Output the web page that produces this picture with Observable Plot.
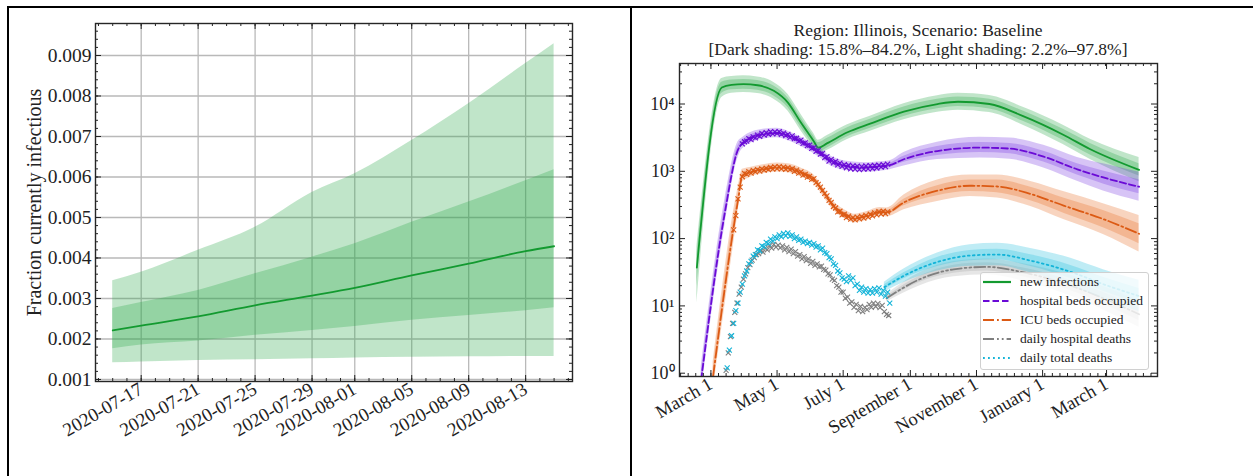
<!DOCTYPE html>
<html>
<head>
<meta charset="utf-8">
<script src="https://cdn.jsdelivr.net/npm/d3@7"></script>
<script src="https://cdn.jsdelivr.net/npm/@observablehq/plot@0.6"></script>
<style>
html, body { margin: 0; padding: 0; background: #fff; }
#page { position: relative; width: 1253px; height: 476px; overflow: hidden; background: #fff; font-family: "Liberation Serif", "Times New Roman", serif; color: #222; }
#left, #right { position: absolute; top: 0; }
#left { left: 0; }
#right { left: 632px; }
.rule { position: absolute; background: #000; }
#title { position: absolute; left: 679px; width: 478px; top: 21px; text-align: center; font-size: 17.5px; line-height: 18.5px; white-space: nowrap; color: #222; }
#legend { position: absolute; left: 980px; top: 272px; width: 169px; height: 98px; background: rgba(255,255,255,0.8); border: 1px solid #d0d0d0; border-radius: 3px; box-sizing: border-box; }
.row { position: absolute; left: 2px; height: 18px; display: flex; align-items: center; font-size: 13.5px; white-space: nowrap; color: #222; }
.row svg { width: 28px; height: 10px; margin-right: 9px; }
</style>
</head>
<body>
<div id="page">
  <div id="left"></div>
  <div id="right"></div>
  <div id="title">Region: Illinois, Scenario: Baseline<br>[Dark shading: 15.8%–84.2%, Light shading: 2.2%–97.8%]</div>
  <div id="legend"></div>
  <div class="rule" style="left:7px;top:6px;width:1246px;height:2px;"></div>
  <div class="rule" style="left:7px;top:6px;width:2px;height:470px;"></div>
  <div class="rule" style="left:630px;top:6px;width:2px;height:470px;"></div>
</div>
<script>
const parse = d3.utcParse("%Y-%m-%d");

// ---------------- LEFT PANEL DATA ----------------
const leftDates   = ["2020-07-15","2020-07-17","2020-07-21","2020-07-25","2020-07-29","2020-08-01","2020-08-05","2020-08-09","2020-08-13","2020-08-15"];
const leftMedian  = [0.00221,0.00233,0.00256,0.00283,0.00307,0.00326,0.00357,0.00386,0.00417,0.00429];
const leftDarkLo  = [0.00176,0.00185,0.00195,0.00209,0.00221,0.00231,0.00246,0.00258,0.00270,0.00277];
const leftDarkHi  = [0.00275,0.00290,0.00320,0.00361,0.00402,0.00435,0.00488,0.00538,0.00591,0.00618];
const leftLightLo = [0.00141,0.00143,0.00147,0.00149,0.00151,0.00153,0.00155,0.00156,0.00157,0.00157];
const leftLightHi = [0.00344,0.00365,0.00419,0.00476,0.00562,0.00608,0.00690,0.00781,0.00880,0.00929];
const leftXTicks  = ["2020-07-17","2020-07-21","2020-07-25","2020-07-29","2020-08-01","2020-08-05","2020-08-09","2020-08-13"];
const leftYTicks  = [0.001,0.002,0.003,0.004,0.005,0.006,0.007,0.008,0.009];
const leftYLabel  = "Fraction currently infectious";

// ---------------- RIGHT PANEL DATA ----------------
// new infections (model)
const niDates   = ["2020-02-17","2020-03-11","2020-03-20","2020-03-31","2020-04-13","2020-04-28","2020-05-11","2020-05-23","2020-06-04","2020-06-08","2020-06-16","2020-07-05","2020-07-26","2020-08-26","2020-09-26","2020-10-15","2020-11-13","2020-12-14","2021-01-20","2021-02-14","2021-03-31"];
const niMed     = [37,17600,19300,19700,19000,15700,10500,5300,2780,2240,2600,3800,5100,7700,10000,10800,10000,6600,3500,2130,1050];
const niDarkLo  = [20,14500,16300,16600,16000,13200,8900,4500,2360,1900,2210,3250,4350,6550,8500,9150,8450,5550,2900,1750,850];
const niDarkHi  = [55,21000,22700,23200,22300,18500,12400,6250,3280,2650,3060,4450,5950,9050,11750,12700,11800,7850,4200,2600,1300];
const niLightLo = [11,12500,14500,14800,14300,11800,7900,4000,2150,1750,2030,2980,3950,5850,7550,8100,7450,4850,2500,1500,700];
const niLightHi = [75,24000,25700,26200,25300,20900,14000,7050,3600,2900,3370,4900,6600,10100,13300,14400,13400,8950,4850,3000,1600];

// hospital beds occupied (model)
const hbDates   = ["2020-02-21","2020-03-14","2020-03-26","2020-03-30","2020-04-18","2020-05-01","2020-05-15","2020-05-28","2020-06-09","2020-06-19","2020-07-04","2020-07-22","2020-08-04","2020-08-12","2020-08-26","2020-09-26","2020-11-04","2020-12-02","2021-01-02","2021-02-02","2021-02-26","2021-03-31"];
const hbMed     = [0.8,250,2100,2600,3550,3700,3170,2500,1900,1440,1200,1140,1180,1220,1510,2000,2250,2170,1650,1070,810,590];
const hbDarkLo  = [0.65,200,1850,2350,3250,3400,2900,2300,1750,1320,1100,1045,1080,1130,1360,1720,1900,1820,1370,880,650,465];
const hbDarkHi  = [1.0,310,2400,2900,3900,4050,3450,2720,2070,1570,1310,1245,1290,1320,1680,2330,2670,2590,1990,1300,1010,750];
const hbLightLo = [0.5,160,1600,2150,3000,3150,2700,2130,1620,1220,1020,970,1000,1050,1200,1500,1580,1510,1120,710,510,360];
const hbLightHi = [1.25,390,2750,3150,4200,4350,3700,2930,2230,1700,1410,1340,1390,1420,1900,2700,3200,3120,2430,1610,1290,970];
// hospital beds occupied (observed, every 2 days)
const hbObsStart = "2020-03-30";
const hbObs = [2550,2750,2800,3050,2950,3250,3150,3450,3300,3650,3450,3750,3550,3900,3600,3850,3650,3900,3550,3700,3400,3550,3200,3350,3050,3100,2800,2900,2600,2650,2400,2450,2200,2250,1980,2050,1800,1850,1600,1650,1420,1500,1330,1400,1250,1320,1180,1260,1130,1230,1090,1200,1080,1190,1060,1170,1080,1200,1090,1210,1100,1220,1120,1230,1150,1260,1170,1280];

// ICU beds occupied (model)
const icuDates   = ["2020-03-03","2020-03-26","2020-03-30","2020-04-06","2020-04-18","2020-05-01","2020-05-13","2020-05-23","2020-06-04","2020-06-13","2020-06-22","2020-07-05","2020-07-11","2020-07-23","2020-08-04","2020-08-10","2020-08-26","2020-09-26","2020-10-26","2020-11-20","2020-12-21","2021-01-21","2021-02-26","2021-03-31"];
const icuMed     = [0.9,370,855,960,1070,1140,1100,960,760,484,308,218,199,218,250,245,345,515,610,595,460,307,195,118];
const icuDarkLo  = [0.7,300,760,880,990,1060,1020,890,705,450,286,202,185,202,232,228,308,433,500,480,365,237,145,84];
const icuDarkHi  = [1.15,455,960,1050,1160,1230,1190,1040,820,522,332,235,214,235,270,265,386,612,745,740,580,398,262,166];
const icuLightLo = [0.55,240,680,810,920,980,945,825,655,416,265,187,171,187,215,210,268,357,422,400,300,190,115,63];
const icuLightHi = [1.45,570,1070,1140,1250,1330,1280,1120,880,563,358,253,231,253,290,285,445,745,880,885,705,495,330,220];
// ICU beds occupied (observed, every 2 days)
const icuObsStart = "2020-03-22";
const icuObs = [135,220,390,580,830,930,900,990,940,1030,980,1060,1010,1090,1040,1110,1060,1140,1080,1160,1100,1170,1090,1150,1070,1130,1060,1100,1000,1040,940,980,880,900,820,840,760,780,680,640,580,520,470,430,370,345,300,285,250,255,225,230,205,215,195,205,190,208,196,214,202,222,208,230,218,242,226,252,232,255,236,250];

// daily hospital deaths (model)
const hdDates   = ["2020-08-10","2020-09-10","2020-10-11","2020-11-11","2020-12-12","2021-01-27","2021-02-26","2021-03-31"];
const hdMed     = [13,25,35,38,32,20,13,7.5];
const hdDarkLo  = [12.2,22.5,30.5,33,27.5,16.8,10.7,6];
const hdDarkHi  = [13.9,27.8,40.2,43.7,37.2,23.8,15.8,9.4];
const hdLightLo = [11.4,20,27,29,23.8,14,8.7,4.8];
const hdLightHi = [14.8,31.3,45.5,49.8,43,28.5,19.5,11.8];
// daily hospital deaths (observed, every 2 days)
const hdObsStart = "2020-03-15";
const hdObs = [1.1,2.0,3.5,5.5,8,11,15,19,25,30,37,41,48,52,58,60,66,63,72,68,78,72,82,75,80,73,78,68,74,64,70,60,64,55,58,50,54,47,50,43,46,40,42,38,39,35,34,30,29,25,24,20,19,16,16,13,13.5,11,11.5,9.5,10.5,8.5,9.8,8.2,9.5,8.8,10.5,9.5,11,9.8,10.8,9.4,10.2,8.2,7.5,7.2];

// daily total deaths (model)
const tdDates   = ["2020-08-08","2020-08-26","2020-09-26","2020-10-26","2020-11-20","2020-12-21","2021-01-27","2021-02-26","2021-03-31"];
const tdMed     = [19,28,45,56,58,47,32,21,14];
const tdDarkLo  = [17.5,25.3,38.5,47,48.5,38.5,25.5,16.5,10.8];
const tdDarkHi  = [20.6,31,52.5,66.5,69.5,57.5,40,26.7,18.2];
const tdLightLo = [16,22.2,33,38.8,39.5,31,20,12.8,8.2];
const tdLightHi = [22.5,35.3,61,80.8,85,71.5,51,34.5,24];
// daily total deaths (observed, every 2 days)
const tdObsStart = "2020-03-16";
const tdObs = [1.2,2.2,3.6,5.5,8.5,11,16,21,28,33,42,46,55,58,68,66,78,76,88,84,98,92,106,100,114,106,120,110,122,108,114,100,106,94,98,88,92,84,88,80,84,75,78,68,72,62,60,52,50,42,40,33,31,26,25,23,28,24,26,20,21,17,19,16,18,15.5,17.5,15.5,18,16,18.5,15,17,14,16,11];

const rightXTicks  = ["2020-03-01","2020-05-01","2020-07-01","2020-09-01","2020-11-01","2021-01-01","2021-03-01"];
const rightYTicks  = [1,10,100,1000,10000];
const rightYLabels = ["10⁰","10¹","10²","10³","10⁴"];
const seriesNames  = ["new infections","hospital beds occupied","ICU beds occupied","daily hospital deaths","daily total deaths"];
const seriesColors = ["#139a30","#6a0ad6","#dc5a14","#7f7f7f","#14b4d8"];
const bandColors   = ["#30a84b","#7b3be0","#e8722c","#9a9a9a","#2ac0de"];
const seriesDash   = [null,"6.5,3","11,3,1.8,3","11,3,1.8,3,1.8,3","1.8,3.2"];

// ---------------- HELPERS ----------------
function bandTable(dates, med, dLo, dHi, lLo, lHi) {
  return dates.map((d, i) => ({date: parse(d), med: med[i], dLo: dLo[i], dHi: dHi[i], lLo: lLo[i], lHi: lHi[i]}));
}
function obsTable(start, vals) {
  const s = parse(start);
  return vals.map((v, i) => ({date: d3.utcDay.offset(s, 2 * i), v}));
}
function sideTicksX(data, len, ph, stroke = "#222") {
  return [
    Plot.ruleX(data, {x: d => d, insetTop: ph - len, stroke, strokeWidth: 1}),
    Plot.ruleX(data, {x: d => d, insetBottom: ph - len, stroke, strokeWidth: 1})
  ];
}
function sideTicksY(data, len, pw, stroke = "#222") {
  return [
    Plot.ruleY(data, {y: d => d, insetRight: pw - len, stroke, strokeWidth: 1}),
    Plot.ruleY(data, {y: d => d, insetLeft: pw - len, stroke, strokeWidth: 1})
  ];
}

// ---------------- LEFT PLOT ----------------
const leftData = bandTable(leftDates, leftMedian, leftDarkLo, leftDarkHi, leftLightLo, leftLightHi);
const LW = 630, LH = 476, LML = 95, LMR = 58, LMT = 23, LMB = 95;
const lpw = LW - LML - LMR, lph = LH - LMT - LMB;
const lxMajor = leftXTicks.map(parse);
const lxMinor = d3.utcDay.range(parse("2020-07-14"), parse("2020-08-17"));
const lyMinor = d3.range(10, 98, 2).map(d => d / 10000);

const leftPlot = Plot.plot({
  width: LW, height: LH,
  marginLeft: LML, marginRight: LMR, marginTop: LMT, marginBottom: LMB,
  style: {background: "transparent", fontFamily: "Liberation Serif, serif", color: "#222"},
  x: {type: "utc", domain: [new Date("2020-07-13T19:00Z"), new Date("2020-08-16T07:00Z")]},
  y: {domain: [0.00095, 0.00979]},
  marks: [
    Plot.gridX(lxMajor, {stroke: "#b9b9b9", strokeOpacity: 1, strokeWidth: 1.3}),
    Plot.gridY(leftYTicks, {stroke: "#b9b9b9", strokeOpacity: 1, strokeWidth: 1.3}),
    Plot.areaY(leftData, {x: "date", y1: "lLo", y2: "lHi", fill: bandColors[0], fillOpacity: 0.3, curve: "monotone-x"}),
    Plot.areaY(leftData, {x: "date", y1: "dLo", y2: "dHi", fill: bandColors[0], fillOpacity: 0.3, curve: "monotone-x"}),
    Plot.line(leftData, {x: "date", y: "med", stroke: seriesColors[0], strokeWidth: 1.8, curve: "monotone-x"}),
    ...sideTicksX(lxMinor, 3, lph),
    ...sideTicksX(lxMajor, 6, lph),
    ...sideTicksY(lyMinor, 3, lpw),
    ...sideTicksY(leftYTicks, 6, lpw),
    Plot.frame({stroke: "#262626", strokeWidth: 1.4}),
    Plot.axisX(lxMajor, {tickFormat: d3.utcFormat("%Y-%m-%d"), tickRotate: -30, textAnchor: "end", tickSize: 0, tickPadding: 6, fontSize: 19}),
    Plot.axisY(leftYTicks, {tickFormat: d3.format(".3f"), tickSize: 0, tickPadding: 4, fontSize: 19.5, label: null}),
    Plot.text([leftYLabel], {frameAnchor: "left", textAnchor: "middle", lineAnchor: "middle", dx: -61, rotate: -90, fontSize: 20, fill: "#222"})
  ]
});
document.getElementById("left").appendChild(leftPlot);

// ---------------- RIGHT PLOT ----------------
const RW = 621, RH = 476, RML = 47, RMR = 96, RMT = 63, RMB = 100;
const rpw = RW - RML - RMR, rph = RH - RMT - RMB;
const models = [
  bandTable(niDates, niMed, niDarkLo, niDarkHi, niLightLo, niLightHi),
  bandTable(hbDates, hbMed, hbDarkLo, hbDarkHi, hbLightLo, hbLightHi),
  bandTable(icuDates, icuMed, icuDarkLo, icuDarkHi, icuLightLo, icuLightHi),
  bandTable(hdDates, hdMed, hdDarkLo, hdDarkHi, hdLightLo, hdLightHi),
  bandTable(tdDates, tdMed, tdDarkLo, tdDarkHi, tdLightLo, tdLightHi)
];
const observed = [
  null,
  obsTable(hbObsStart, hbObs),
  obsTable(icuObsStart, icuObs),
  obsTable(hdObsStart, hdObs),
  obsTable(tdObsStart, tdObs)
];
const rxMajor = rightXTicks.map(parse);
const rxMinor = d3.utcDay.range(parse("2020-02-02"), parse("2021-04-17"), 7);
const ryMinor = [];
for (const p of [1, 10, 100, 1000, 10000]) for (const m of [2,3,4,5,6,7,8,9]) if (m * p < 40000) ryMinor.push(m * p);

const seriesMarks = [];
models.forEach((data, k) => {
  seriesMarks.push(
    Plot.areaY(data, {x: "date", y1: "lLo", y2: "lHi", fill: bandColors[k], fillOpacity: k === 3 ? 0.25 : 0.3, curve: "monotone-x", clip: true}),
    Plot.areaY(data, {x: "date", y1: "dLo", y2: "dHi", fill: bandColors[k], fillOpacity: k === 3 ? 0.25 : 0.3, curve: "monotone-x", clip: true}),
    Plot.line(data, {x: "date", y: "med", stroke: seriesColors[k], strokeWidth: 1.8, strokeDasharray: seriesDash[k], curve: "monotone-x", clip: true})
  );
  if (observed[k]) {
    seriesMarks.push(Plot.dot(observed[k], {x: "date", y: "v", symbol: "times", r: 2.4, fill: "none", stroke: seriesColors[k], strokeWidth: 1.1, clip: true}));
  }
});

const rightPlot = Plot.plot({
  width: RW, height: RH,
  marginLeft: RML, marginRight: RMR, marginTop: RMT, marginBottom: RMB,
  style: {background: "transparent", fontFamily: "Liberation Serif, serif", color: "#222"},
  x: {type: "utc", domain: [parse("2020-02-01"), parse("2021-04-17")]},
  y: {type: "log", domain: [0.893, 40000]},
  marks: [
    ...seriesMarks,
    ...sideTicksX(rxMinor, 3, rph),
    ...sideTicksX(rxMajor, 6, rph),
    ...sideTicksY(ryMinor, 3, rpw),
    ...sideTicksY(rightYTicks, 6, rpw),
    Plot.frame({stroke: "#262626", strokeWidth: 1.4}),
    Plot.axisX(rxMajor, {tickFormat: d3.utcFormat("%B %-d"), tickRotate: -30, textAnchor: "end", tickSize: 0, tickPadding: 6, fontSize: 18.5}),
    Plot.axisY(rightYTicks, {tickFormat: d => rightYLabels[rightYTicks.indexOf(d)], tickSize: 0, tickPadding: 5, fontSize: 18, label: null})
  ]
});
document.getElementById("right").appendChild(rightPlot);

// ---------------- LEGEND ----------------
const legend = document.getElementById("legend");
seriesNames.forEach((name, k) => {
  const row = document.createElement("div");
  row.className = "row";
  row.style.top = (k * 19) + "px";
  const dash = seriesDash[k] ? ` stroke-dasharray="${seriesDash[k]}"` : "";
  row.innerHTML = `<svg viewBox="0 0 28 10"><line x1="0" y1="5" x2="28" y2="5" stroke="${seriesColors[k]}" stroke-width="2.2"${dash}/></svg><span>${name}</span>`;
  legend.appendChild(row);
});
</script>
</body>
</html>
